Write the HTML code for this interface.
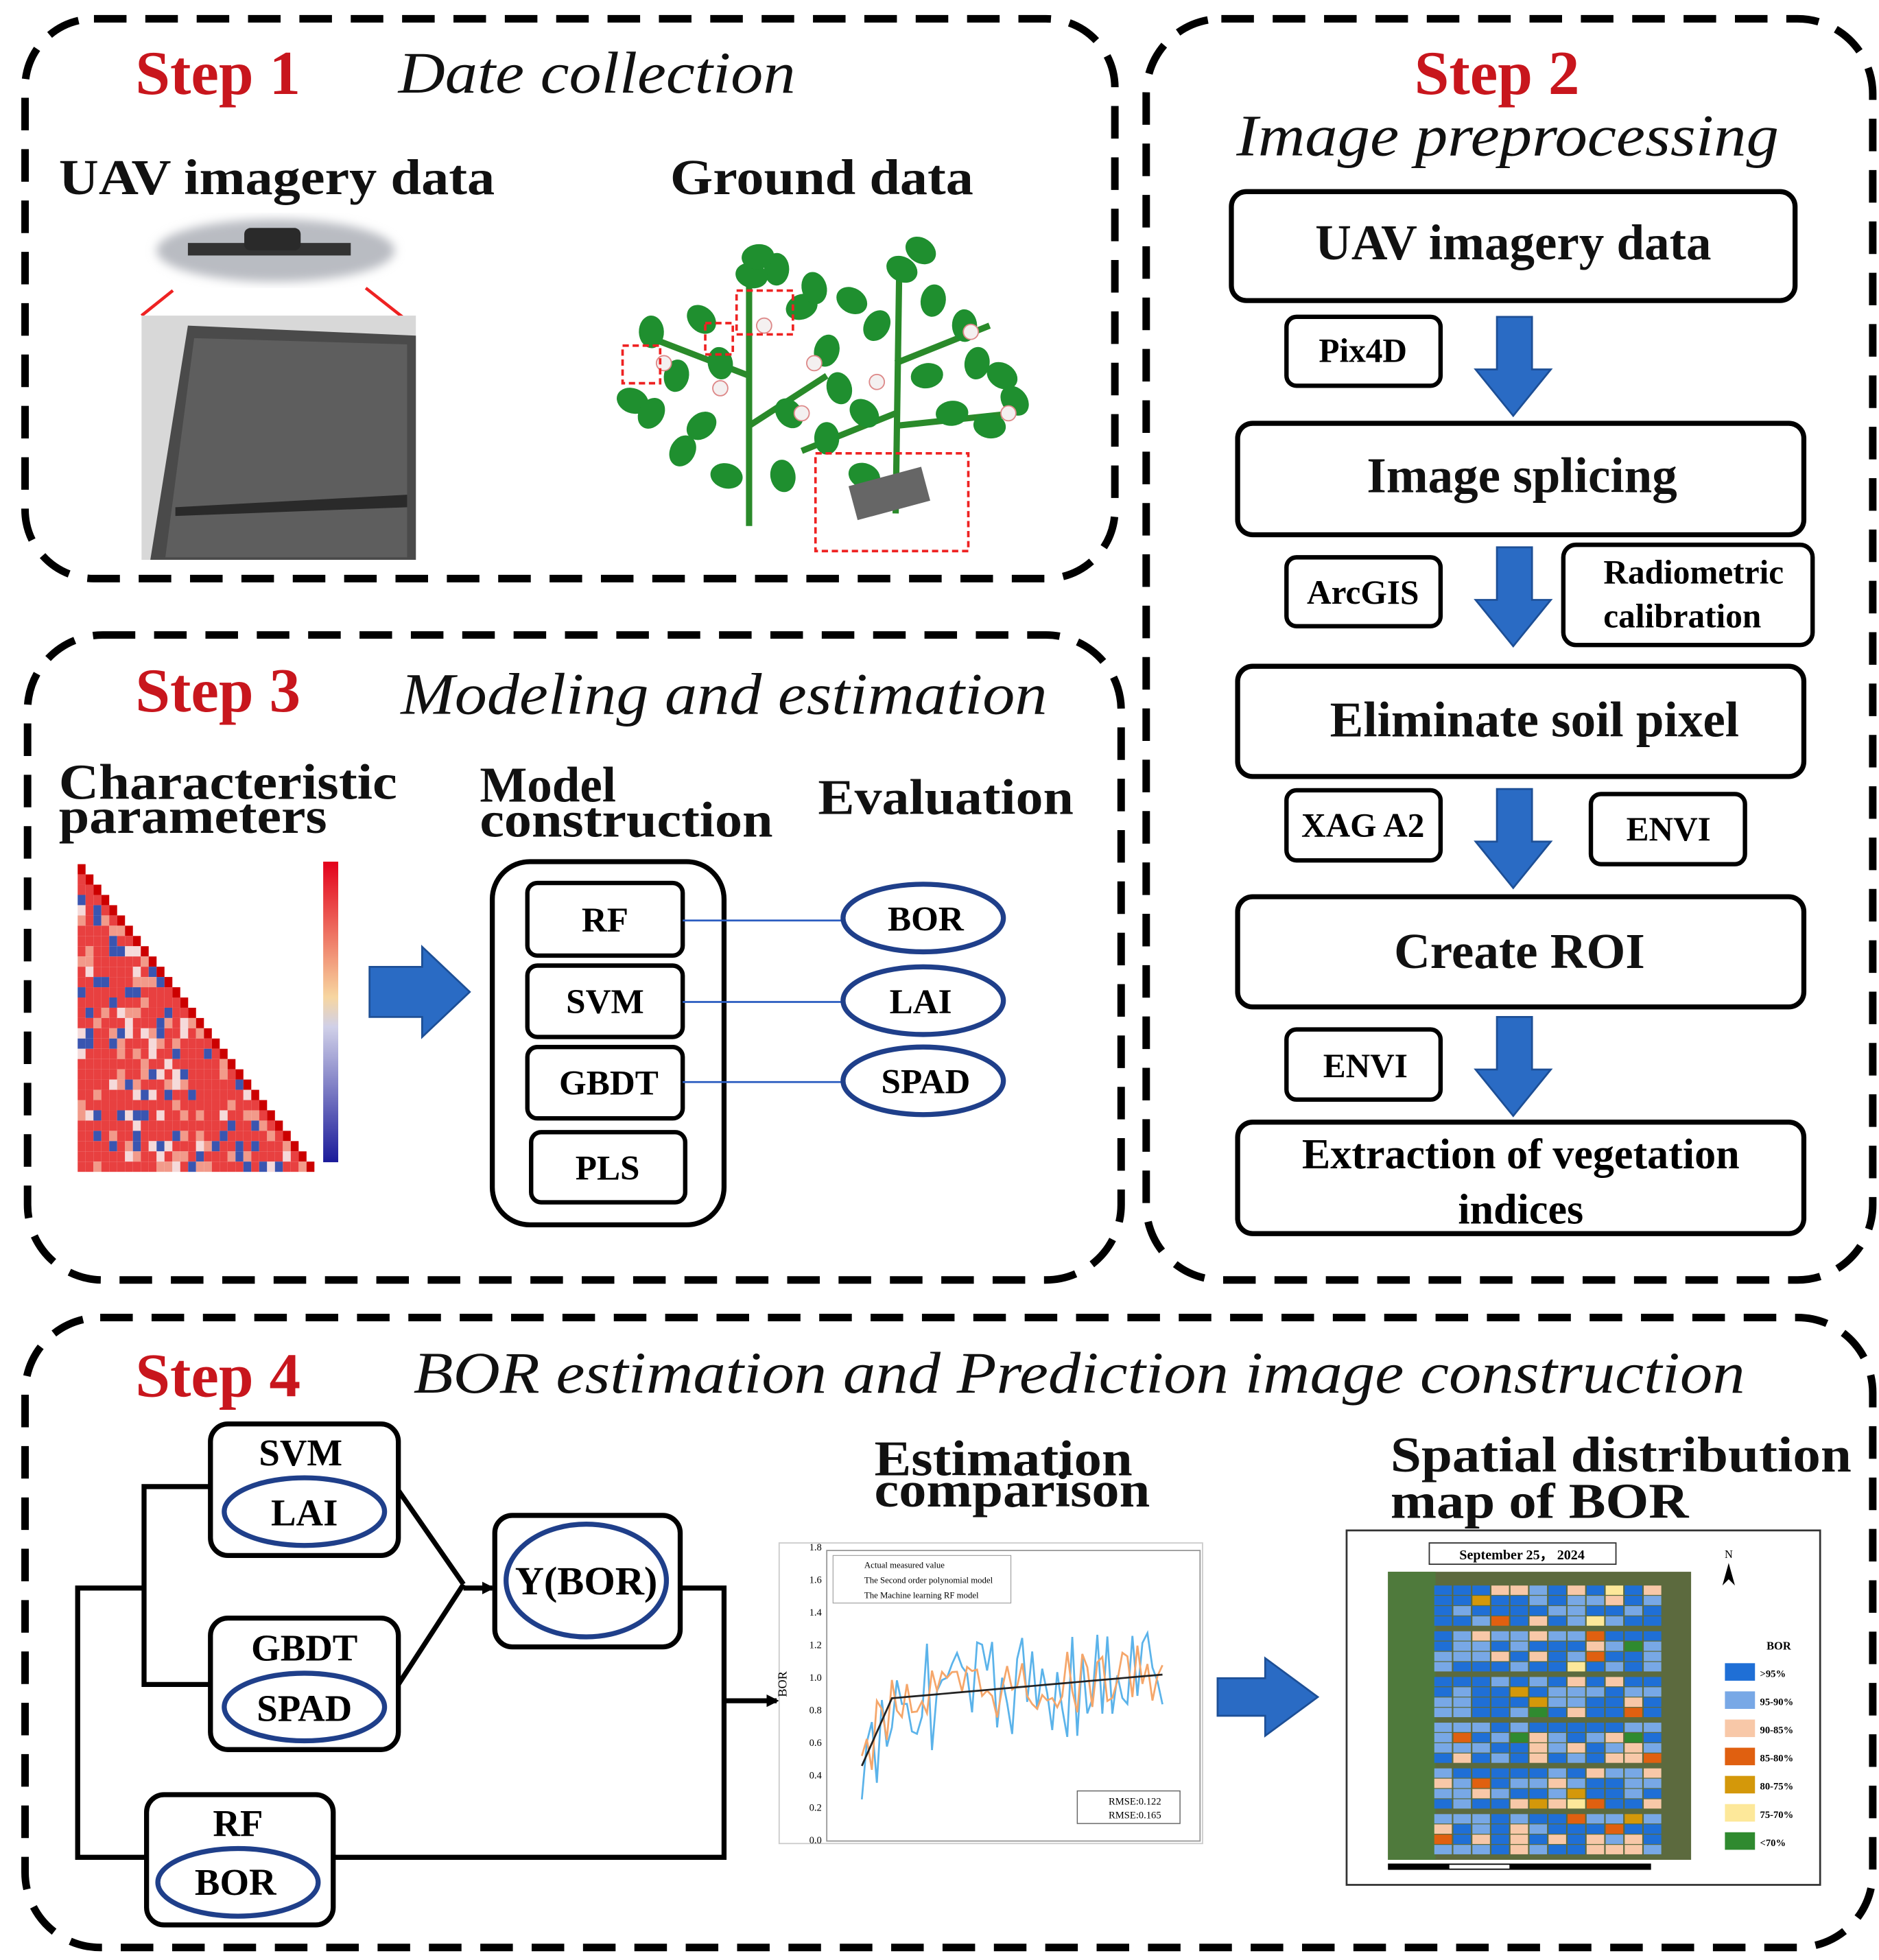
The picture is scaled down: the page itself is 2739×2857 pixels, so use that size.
<!DOCTYPE html>
<html><head><meta charset="utf-8"><style>
html,body{margin:0;padding:0;background:#fff;}
svg{display:block;}
text{font-family:"Liberation Serif",serif;}
.b{font-weight:bold;}
.st{font-weight:bold;fill:#c8161d;font-size:50px;}
.it{font-style:italic;font-size:47px;fill:#111;}
.h{font-weight:bold;font-size:40px;fill:#111;}
.box{fill:#fff;stroke:#000;stroke-width:4;}
.sb{fill:#fff;stroke:#000;stroke-width:3.5;}
.dash{fill:none;stroke:#000;stroke-width:6;stroke-dasharray:26 15;}
.ell{fill:#fff;stroke:#1f3f8a;stroke-width:4;}
</style></head><body>
<svg id="s" width="2739" height="2857" viewBox="0 0 1500 1565" preserveAspectRatio="none" xmlns="http://www.w3.org/2000/svg">
<defs>
<marker id="ah" markerWidth="10" markerHeight="10" refX="8" refY="5" orient="auto" markerUnits="userSpaceOnUse"><path d="M0,0 L10,5 L0,10 z" fill="#000"/></marker>
<filter id="bl"><feGaussianBlur stdDeviation="4"/></filter>
</defs>
<rect class="dash" x="20" y="15" width="870" height="447" rx="55"/>
<rect class="dash" x="915" y="15" width="580" height="1007" rx="60"/>
<rect class="dash" x="22" y="507" width="873" height="515" rx="60"/>
<rect class="dash" x="20" y="1052" width="1475" height="503" rx="60"/>

<!-- Step 1 -->
<text class="st" x="108" y="75">Step 1</text>
<text class="it" x="318" y="74" textLength="317" lengthAdjust="spacingAndGlyphs">Date collection</text>
<text class="h" x="47" y="155" textLength="348" lengthAdjust="spacingAndGlyphs">UAV imagery data</text>
<text class="h" x="535" y="155" textLength="242" lengthAdjust="spacingAndGlyphs">Ground data</text>
<ellipse cx="220" cy="200" rx="95" ry="25" fill="#b9bcc2" filter="url(#bl)"/>
<rect x="150" y="194" width="130" height="10" fill="#333"/>
<rect x="195" y="182" width="45" height="18" rx="5" fill="#2a2a2a"/>
<line x1="113" y1="252" x2="138" y2="232" stroke="#e22" stroke-width="2.5"/>
<line x1="325" y1="256" x2="292" y2="230" stroke="#e22" stroke-width="2.5"/>
<rect x="113" y="252" width="219" height="195" fill="#d8d8d8"/>
<path d="M150,260 L332,268 L332,447 L120,447 Z" fill="#4a4a4a"/>
<path d="M155,270 L325,275 L325,445 L132,445 Z" fill="#5e5e5e"/>
<path d="M140,405 L325,395 L325,405 L140,412 Z" fill="#2a2a2a"/>
<g stroke="#2a8a2a" stroke-width="5">
<line x1="598" y1="215" x2="598" y2="420"/>
<line x1="718" y1="205" x2="715" y2="410"/>
<line x1="598" y1="300" x2="520" y2="270"/><line x1="598" y1="340" x2="660" y2="300"/>
<line x1="715" y1="290" x2="790" y2="260"/><line x1="715" y1="330" x2="640" y2="360"/>
<line x1="715" y1="340" x2="810" y2="330"/>
</g>
<g fill="#1f8f2f" id="leaves"></g>
<g fill="none" stroke="#e22" stroke-width="2" stroke-dasharray="5 3">
<rect x="497" y="276" width="30" height="30"/><rect x="563" y="258" width="22" height="25"/>
<rect x="588" y="232" width="45" height="35"/><rect x="651" y="362" width="122" height="78"/>
</g>
<rect x="680" y="380" width="60" height="28" fill="#666" transform="rotate(-15 710 394)"/>

<!-- Step 2 -->
<text class="st" x="1195" y="75" text-anchor="middle">Step 2</text>
<text class="it" x="987" y="124" font-size="48" textLength="433" lengthAdjust="spacingAndGlyphs">Image preprocessing</text>
<rect class="box" x="983" y="153" width="450" height="87" rx="12"/>
<text class="h" x="1208" y="207" text-anchor="middle">UAV imagery data</text>
<rect class="sb" x="1027" y="253" width="123" height="55" rx="8"/>
<text class="b" x="1088" y="289" text-anchor="middle" font-size="27">Pix4D</text>
<rect class="box" x="988" y="338" width="452" height="89" rx="12"/>
<text class="h" x="1215" y="393" text-anchor="middle">Image splicing</text>
<rect class="sb" x="1027" y="445" width="123" height="55" rx="8"/>
<text class="b" x="1088" y="482" text-anchor="middle" font-size="27">ArcGIS</text>
<rect class="sb" x="1248" y="435" width="199" height="80" rx="10"/>
<text class="b" x="1352" y="466" text-anchor="middle" font-size="27">Radiometric</text>
<text class="b" x="1343" y="501" text-anchor="middle" font-size="27">calibration</text>
<rect class="box" x="988" y="532" width="452" height="88" rx="12"/>
<text class="h" x="1225" y="588" text-anchor="middle">Eliminate soil pixel</text>
<rect class="sb" x="1027" y="631" width="123" height="56" rx="8"/>
<text class="b" x="1088" y="668" text-anchor="middle" font-size="27">XAG A2</text>
<rect class="sb" x="1270" y="634" width="123" height="56" rx="8"/>
<text class="b" x="1332" y="671" text-anchor="middle" font-size="27">ENVI</text>
<rect class="box" x="988" y="716" width="452" height="88" rx="12"/>
<text class="h" x="1213" y="773" text-anchor="middle">Create ROI</text>
<rect class="sb" x="1027" y="822" width="123" height="56" rx="8"/>
<text class="b" x="1090" y="860" text-anchor="middle" font-size="27">ENVI</text>
<rect class="box" x="988" y="896" width="452" height="89" rx="12"/>
<text class="b" x="1214" y="933" text-anchor="middle" font-size="34">Extraction of vegetation</text>
<text class="b" x="1214" y="977" text-anchor="middle" font-size="34">indices</text>
<g fill="#2a6bc4" stroke="#1d4f96" stroke-width="1.5">
<path d="M1195,253 h28 v42 h15 l-30,37 l-30,-37 h17 z"/>
<path d="M1195,437 h28 v42 h15 l-30,37 l-30,-37 h17 z"/>
<path d="M1195,630 h28 v42 h15 l-30,37 l-30,-37 h17 z"/>
<path d="M1195,812 h28 v42 h15 l-30,37 l-30,-37 h17 z"/>
</g>

<!-- Step 3 -->
<text class="st" x="108" y="568">Step 3</text>
<text class="it" x="320" y="570" textLength="516" lengthAdjust="spacingAndGlyphs">Modeling and estimation</text>
<text class="h" x="47" y="638" textLength="270" lengthAdjust="spacingAndGlyphs">Characteristic</text>
<text class="h" x="47" y="665" textLength="214" lengthAdjust="spacingAndGlyphs">parameters</text>
<text class="h" x="383" y="640">Model</text>
<text class="h" x="383" y="668" textLength="234" lengthAdjust="spacingAndGlyphs">construction</text>
<text class="h" x="653" y="650" textLength="204" lengthAdjust="spacingAndGlyphs">Evaluation</text>
<g id="heat"></g>
<defs><linearGradient id="cb" x1="0" y1="0" x2="0" y2="1"><stop offset="0" stop-color="#e3001b"/><stop offset="0.45" stop-color="#f7d6a0"/><stop offset="0.55" stop-color="#d0d0e8"/><stop offset="1" stop-color="#1a1a9a"/></linearGradient></defs>
<rect x="258" y="688" width="12" height="240" fill="url(#cb)"/>
<path d="M295,772 h42 v-16 l38,36 l-38,36 v-16 h-42 z" fill="#2a6bc4" stroke="#1d4f96" stroke-width="1.5"/>
<rect class="box" x="393" y="688" width="185" height="290" rx="30"/>
<rect class="sb" x="421" y="705" width="124" height="58" rx="8"/><text class="b" x="483" y="744" text-anchor="middle" font-size="28">RF</text>
<rect class="sb" x="421" y="771" width="124" height="57" rx="8"/><text class="b" x="483" y="809" text-anchor="middle" font-size="28">SVM</text>
<rect class="sb" x="421" y="836" width="124" height="57" rx="8"/><text class="b" x="486" y="874" text-anchor="middle" font-size="28">GBDT</text>
<rect class="sb" x="424" y="904" width="123" height="56" rx="8"/><text class="b" x="485" y="942" text-anchor="middle" font-size="28">PLS</text>
<g stroke="#2a5cc0" stroke-width="1.5"><line x1="545" y1="735" x2="673" y2="735"/><line x1="545" y1="800" x2="673" y2="800"/><line x1="545" y1="864" x2="673" y2="864"/></g>
<ellipse class="ell" cx="737" cy="733" rx="64" ry="27"/><text class="b" x="739" y="743" text-anchor="middle" font-size="28">BOR</text>
<ellipse class="ell" cx="737" cy="799" rx="64" ry="27"/><text class="b" x="735" y="809" text-anchor="middle" font-size="28">LAI</text>
<ellipse class="ell" cx="737" cy="863" rx="64" ry="27"/><text class="b" x="739" y="873" text-anchor="middle" font-size="28">SPAD</text>

<!-- Step 4 -->
<text class="st" x="108" y="1115">Step 4</text>
<text class="it" x="330" y="1112" textLength="1063" lengthAdjust="spacingAndGlyphs">BOR estimation and Prediction image construction</text>
<g fill="none" stroke="#000" stroke-width="4">
<polyline points="168,1187 115,1187 115,1345 168,1345"/>
<polyline points="318,1190 370,1265"/><polyline points="318,1345 370,1265"/>
<polyline points="543,1268 578,1268 578,1483 62,1483 62,1268 115,1268"/>
</g>
<line x1="370" y1="1268" x2="393" y2="1268" stroke="#000" stroke-width="4" marker-end="url(#ah)"/>
<line x1="578" y1="1358" x2="620" y2="1358" stroke="#000" stroke-width="4" marker-end="url(#ah)"/>
<rect class="box" x="168" y="1137" width="150" height="105" rx="14"/>
<text class="b" x="240" y="1170" text-anchor="middle" font-size="30">SVM</text>
<ellipse class="ell" cx="243" cy="1207" rx="64" ry="27"/><text class="b" x="243" y="1218" text-anchor="middle" font-size="30">LAI</text>
<rect class="box" x="168" y="1292" width="150" height="105" rx="14"/>
<text class="b" x="243" y="1326" text-anchor="middle" font-size="30">GBDT</text>
<ellipse class="ell" cx="243" cy="1363" rx="64" ry="27"/><text class="b" x="243" y="1374" text-anchor="middle" font-size="30">SPAD</text>
<rect class="box" x="117" y="1433" width="149" height="104" rx="14"/>
<text class="b" x="190" y="1466" text-anchor="middle" font-size="30">RF</text>
<ellipse class="ell" cx="190" cy="1503" rx="64" ry="27"/><text class="b" x="188" y="1513" text-anchor="middle" font-size="30">BOR</text>
<rect class="box" x="395" y="1210" width="148" height="105" rx="14"/>
<ellipse class="ell" cx="468" cy="1262" rx="64" ry="45"/><text class="b" x="468" y="1273" text-anchor="middle" font-size="32">Y(BOR)</text>
<text class="h" x="698" y="1178" textLength="206" lengthAdjust="spacingAndGlyphs">Estimation</text>
<text class="h" x="698" y="1203" textLength="220" lengthAdjust="spacingAndGlyphs">comparison</text>
<rect x="622" y="1232" width="338" height="240" fill="#fff" stroke="#ccc" stroke-width="1"/>
<rect x="660" y="1238" width="298" height="232" fill="none" stroke="#999" stroke-width="1"/>
<g id="chart"></g>
<text x="628" y="1355" font-size="10" transform="rotate(-90 628 1355)">BOR</text>
<path d="M972,1340 h38 v-16 l42,31 l-42,31 v-16 h-38 z" fill="#2a6bc4" stroke="#1d4f96" stroke-width="1.5"/>
<text class="h" x="1110" y="1175" textLength="368" lengthAdjust="spacingAndGlyphs">Spatial distribution</text>
<text class="h" x="1110" y="1212" textLength="238" lengthAdjust="spacingAndGlyphs">map of BOR</text>
<rect x="1075" y="1222" width="378" height="283" fill="#fff" stroke="#333" stroke-width="1.5"/>
<rect x="1141" y="1232" width="149" height="17" fill="#fff" stroke="#333" stroke-width="1"/>
<text class="b" x="1215" y="1245" text-anchor="middle" font-size="11">September 25， 2024</text>
<text x="1380" y="1244" font-size="9" text-anchor="middle">N</text>
<path d="M1380,1248 l-5,18 l5,-5 l5,5 z" fill="#000"/>
<rect x="1108" y="1255" width="242" height="230" fill="#5c6a3e"/>
<rect x="1108" y="1255" width="38" height="230" fill="#4f7a3c"/>
<g id="map"></g>
<rect x="1108" y="1488" width="210" height="5" fill="#000"/><rect x="1157" y="1489" width="48" height="3" fill="#fff"/>
<text class="b" x="1420" y="1317" font-size="9" text-anchor="middle">BOR</text>
<g id="leg"></g>
</svg>
<script>
var NS="http://www.w3.org/2000/svg";
function el(p,t,a){var e=document.createElementNS(NS,t);for(var k in a)e.setAttribute(k,a[k]);p.appendChild(e);return e;}
var seed=7;function r(){seed=(seed*9301+49297)%233280;return seed/233280;}
var L=document.getElementById('leaves');
var lp=[[520,265],[540,300],[505,320],[560,255],[575,290],[620,215],[600,220],[640,245],[660,280],[670,310],[630,330],[560,340],[545,360],[580,380],[660,350],[690,330],[700,260],[720,215],[745,240],[770,260],[800,300],[790,340],[740,300],[760,330],[690,380],[625,380],[605,205],[735,200],[650,230],[780,290],[520,330],[810,320],[680,240]];
lp.forEach(function(p){el(L,'ellipse',{cx:p[0],cy:p[1],rx:13,ry:10,transform:'rotate('+(r()*180)+' '+p[0]+' '+p[1]+')'});});
[[530,290],[610,260],[650,290],[700,305],[775,265],[805,330],[575,310],[640,330]].forEach(function(p){el(L,'circle',{cx:p[0],cy:p[1],r:6,fill:'#f4f0f0',stroke:'#d88',"stroke-width":1});});
var H=document.getElementById('heat');var n=30,x0=62,y0=690,cs=6.3;
for(var i=0;i<n;i++)for(var j=0;j<=i;j++){var v=r();var c=v<0.6?'#e84040':(v<0.75?'#f29a8a':(v<0.9?'#3a55b0':'#f5dada'));if(i==j)c='#c00';el(H,'rect',{x:x0+j*cs,y:y0+i*cs*1.3,width:cs,height:cs*1.3,fill:c});}
var C=document.getElementById('chart');var pb='',po='',pk='';
for(var k=0;k<=60;k++){var x=688+k*4;var base=1410-(k<6?k*9:54+(k-6)*0.35);pk+=(k?'L':'M')+x+','+base;pb+=(k?'L':'M')+x+','+(base+(r()-0.5)*90);po+=(k?'L':'M')+x+','+(base+(r()-0.5)*50);}
el(C,'path',{d:pb,fill:'none',stroke:'#5bb3ea','stroke-width':1.5});
el(C,'path',{d:po,fill:'none',stroke:'#f5a66a','stroke-width':1.5});
el(C,'path',{d:pk,fill:'none',stroke:'#222','stroke-width':1.5});
for(var t=0;t<10;t++){el(C,'text',{x:646,y:1472-t*26,'font-size':8}).textContent=(t*0.2).toFixed(1);}
el(C,'rect',{x:665,y:1242,width:142,height:38,fill:'none',stroke:'#999','stroke-width':0.6});
el(C,'text',{x:690,y:1252,'font-size':7}).textContent='Actual measured value';
el(C,'text',{x:690,y:1264,'font-size':7}).textContent='The Second order polynomial model';
el(C,'text',{x:690,y:1276,'font-size':7}).textContent='The Machine learning RF model';
el(C,'rect',{x:860,y:1430,width:82,height:26,fill:'#fff',stroke:'#666','stroke-width':0.8});
el(C,'text',{x:885,y:1441,'font-size':8}).textContent='RMSE:0.122';
el(C,'text',{x:885,y:1452,'font-size':8}).textContent='RMSE:0.165';
var M=document.getElementById('map');var cols=['#1f6fd6','#78a8e6','#f8c8a8','#e06010','#d4980a','#fde89a','#2f8a2f'];
for(var gi=0;gi<6;gi++)for(var ci=0;ci<12;ci++)for(var ri=0;ri<4;ri++){var v=r();var c=v<0.45?cols[0]:v<0.8?cols[1]:v<0.93?cols[2]:cols[3+Math.floor(r()*4)];el(M,'rect',{x:1145+ci*15.2,y:1266+gi*36.5+ri*8.2,width:14,height:7.5,fill:c});}
var G=document.getElementById('leg');var lab=['>95%','95-90%','90-85%','85-80%','80-75%','75-70%','<70%'];
for(var q=0;q<7;q++){el(G,'rect',{x:1377,y:1328+q*22.5,width:24,height:14,fill:cols[q]});var tt=el(G,'text',{x:1405,y:1339+q*22.5,'font-size':8,'font-weight':'bold'});tt.textContent=lab[q];}
</script>
</body></html>
